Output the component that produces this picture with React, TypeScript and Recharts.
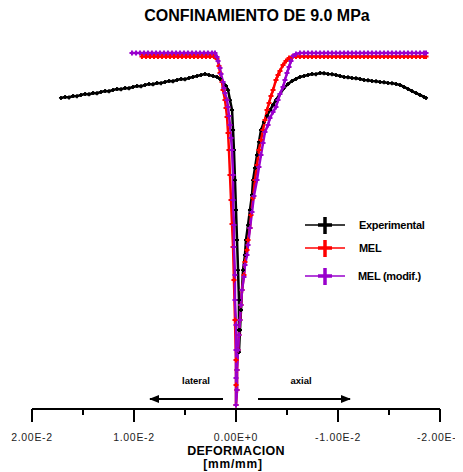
import React from 'react';
import { LineChart, Line, XAxis, YAxis, Legend } from 'recharts';

// Strain values are given in units of 1e-4 mm/mm; stress in MPa.
const expStrain = [171.6, 167.6, 163.7, 159.8, 155.9, 152.0, 148.0, 144.1, 140.2, 136.3, 132.4, 128.4, 124.5, 120.6, 116.7, 112.7, 108.8, 104.9, 101.0, 97.1, 93.1, 89.2, 85.3, 81.4, 77.5, 73.5, 69.6, 65.7, 61.8, 57.8, 53.9, 50.0, 46.1, 42.2, 38.2, 34.3, 30.4, 26.5, 22.5, 18.6, 15.7, 12.7, 9.8, 7.8, 5.9, 3.9, 2.9, 2.0, 1.0, 0.0, -1.0, -2.0, -2.9, -2.9, -2.9,
  -3.9, -4.9, -5.9, -6.9, -8.8, -9.8, -11.8, -13.7, -15.7, -16.7, -18.6, -20.6, -22.5, -24.5, -27.5, -30.4, -33.3, -36.3, -39.2, -43.1, -47.1, -51.0, -54.9, -58.8, -62.7, -66.7, -70.6, -74.5, -78.4, -82.4, -86.3, -90.2, -94.1, -98.0, -102.0, -105.9, -109.8, -113.7, -117.6, -121.6, -125.5, -129.4, -133.3, -137.3, -141.2, -145.1, -149.0, -152.9, -156.9, -160.8, -164.7, -168.6, -172.5, -176.5, -180.4, -184.3, -186.3];
const expStress = [34.56, 34.67, 34.62, 34.78, 34.76, 34.89, 35.0, 34.96, 35.11, 35.08, 35.22, 35.33, 35.3, 35.44, 35.56, 35.52, 35.67, 35.64, 35.78, 35.89, 35.85, 36.0, 36.11, 36.07, 36.22, 36.2, 36.33, 36.44, 36.41, 36.56, 36.67, 36.63, 36.78, 36.89, 37.0, 37.11, 37.22, 37.11, 37.0, 36.89, 36.67, 36.33, 35.89, 35.44, 34.33, 33.22, 31.0, 28.78, 25.44, 22.11, 18.78, 15.44, 12.11, 8.78, 6.33,
  8.78, 11.0, 13.22, 15.44, 17.11, 18.78, 20.44, 22.11, 23.78, 25.44, 26.78, 28.22, 29.67, 31.0, 31.89, 32.56, 33.22, 33.78, 34.33, 35.0, 35.67, 36.11, 36.44, 36.67, 36.89, 37.0, 37.11, 37.22, 37.2, 37.33, 37.3, 37.22, 37.2, 37.11, 37.0, 36.89, 36.86, 36.78, 36.75, 36.67, 36.56, 36.53, 36.44, 36.41, 36.33, 36.3, 36.22, 36.2, 36.11, 36.0, 35.78, 35.56, 35.33, 35.11, 34.89, 34.67, 34.56];

const melStrain = [92.2, 88.2, 84.3, 80.4, 76.5, 72.5, 68.6, 64.7, 60.8, 56.9, 52.9, 49.0, 45.1, 41.2, 37.3, 33.3, 29.4, 25.5, 21.6,
  18.6, 16.7, 15.7, 13.7, 12.7, 10.8, 9.8, 8.8, 7.8, 6.9, 5.9, 4.9, 3.9, 2.9, 2.0, 1.0, 0.0, 0.0, 0.0,
  -1.0, -1.0, -2.0, -2.9, -3.9, -4.9, -5.9, -7.8, -8.8, -10.8, -11.8, -13.7, -14.7, -16.7, -18.6, -20.6, -22.5, -24.5, -26.5, -28.4, -30.4, -32.4, -34.3, -36.3, -39.2, -41.2, -43.1, -46.1, -49.0, -52.0, -54.9,
  -58.8, -62.7, -66.7, -70.6, -74.5, -78.4, -82.4, -86.3, -90.2, -94.1, -98.0, -102.0, -105.9, -109.8, -113.7, -117.6, -121.6, -125.5, -129.4, -133.3, -137.3, -141.2, -145.1, -149.0, -152.9, -156.9, -160.8, -164.7, -168.6, -172.5, -176.5, -180.4, -184.3, -186.3];
const melStress = [39.17, 39.17, 39.17, 39.17, 39.17, 39.17, 39.17, 39.17, 39.17, 39.17, 39.17, 39.17, 39.17, 39.17, 39.17, 39.17, 39.17, 39.17, 39.17,
  38.89, 38.11, 37.33, 36.33, 35.44, 34.33, 33.44, 32.44, 30.67, 28.78, 26.0, 23.22, 20.56, 18.0, 14.33, 9.89, 5.44, 2.67, 0.44,
  2.11, 4.33, 6.56, 8.22, 9.89, 11.56, 13.22, 14.89, 16.33, 17.67, 18.78, 20.11, 21.56, 23.44, 25.44, 27.11, 28.78, 29.89, 31.0, 32.11, 33.22, 34.0, 34.78, 35.44, 36.56, 37.11, 37.56, 38.22, 38.67, 39.0, 39.11,
  39.17, 39.17, 39.17, 39.17, 39.17, 39.17, 39.17, 39.17, 39.17, 39.17, 39.17, 39.17, 39.17, 39.17, 39.17, 39.17, 39.17, 39.17, 39.17, 39.17, 39.17, 39.17, 39.17, 39.17, 39.17, 39.17, 39.17, 39.17, 39.17, 39.17, 39.17, 39.17, 39.17, 39.17];

const modStrain = [102.0, 98.0, 94.1, 90.2, 86.3, 82.4, 78.4, 74.5, 70.6, 66.7, 62.7, 58.8, 54.9, 51.0, 47.1, 43.1, 39.2, 35.3, 31.4, 27.5, 23.5, 20.6,
  18.6, 17.6, 15.7, 14.7, 12.7, 11.8, 10.8, 8.8, 7.8, 6.9, 5.9, 4.9, 3.9, 2.9, 2.9, 2.0, 2.0, 1.0, 1.0, 0.0, 0.0, 0.0, 0.0,
  -1.0, -1.0, -2.0, -2.9, -3.9, -4.9, -5.9, -7.8, -8.8, -10.8, -11.8, -13.7, -15.7, -17.6, -20.6, -22.5, -24.5, -26.5, -28.4, -31.4, -33.3, -36.3, -39.2, -41.2, -43.1, -46.1, -48.0, -50.0, -52.0, -53.9, -55.9, -58.8,
  -62.7, -66.7, -70.6, -74.5, -78.4, -82.4, -86.3, -90.2, -94.1, -98.0, -102.0, -105.9, -109.8, -113.7, -117.6, -121.6, -125.5, -129.4, -133.3, -137.3, -141.2, -145.1, -149.0, -152.9, -156.9, -160.8, -164.7, -168.6, -172.5, -176.5, -180.4, -184.3, -186.3];
const modStress = [39.56, 39.56, 39.56, 39.56, 39.56, 39.56, 39.56, 39.56, 39.56, 39.56, 39.56, 39.56, 39.56, 39.56, 39.56, 39.56, 39.56, 39.56, 39.56, 39.56, 39.56, 39.56,
  39.11, 38.67, 37.89, 37.22, 36.33, 35.67, 35.11, 34.33, 33.56, 32.56, 31.56, 30.11, 28.78, 26.0, 23.22, 20.44, 18.0, 14.89, 12.11, 9.33, 6.56, 3.44, 0.44,
  2.11, 4.33, 6.56, 8.22, 9.89, 11.56, 13.22, 14.67, 16.0, 17.11, 18.22, 20.11, 21.89, 23.67, 25.44, 26.89, 28.22, 29.56, 30.78, 31.56, 32.33, 33.0, 33.56, 34.33, 35.0, 35.78, 36.56, 37.33, 38.0, 38.67, 39.22, 39.44,
  39.56, 39.56, 39.56, 39.56, 39.56, 39.56, 39.56, 39.56, 39.56, 39.56, 39.56, 39.56, 39.56, 39.56, 39.56, 39.56, 39.56, 39.56, 39.56, 39.56, 39.56, 39.56, 39.56, 39.56, 39.56, 39.56, 39.56, 39.56, 39.56, 39.56, 39.56, 39.56, 39.56];

const majorTicks = [0.02, 0.01, 0, -0.01, -0.02];
const minorTicks = [0.015, 0.005, -0.005, -0.015];
const tickLabels = ['2.00E-2', '1.00E-2', '0.00E+0', '-1.00E-2', '-2.00E-2'];

const seriesNames = ['Experimental', 'MEL', 'MEL (modif.)'];
const seriesColors = ['#000000', '#ff0000', '#9900cc'];

const toRows = (xs: number[], ys: number[]) => xs.map((x, i) => ({ x: x * 1e-4, y: ys[i] }));
const expData = toRows(expStrain, expStress);
const melData = toRows(melStrain, melStress);
const modData = toRows(modStrain, modStress);

const FONT = '"Liberation Sans", Arial, Helvetica, sans-serif';

const makeDot = (color: string, size: number, sw: number) => (props: any) => {
  const { cx, cy, index } = props;
  if (cx == null || cy == null) return <g key={`d${index}`} />;
  return (
    <path key={`d${index}`} d={`M${cx - size},${cy}h${2 * size}M${cx},${cy - size}v${2 * size}`} stroke={color} strokeWidth={sw} fill="none" />
  );
};

const AxisTick = (props: any) => {
  const { x, y, payload } = props;
  const v = payload.value;
  const mi = majorTicks.findIndex((t) => Math.abs(t - v) < 1e-9);
  const isMajor = mi >= 0;
  return (
    <g>
      <line x1={x} x2={x} y1={y} y2={y + (isMajor ? 13 : 6)} stroke="#000" strokeWidth={2} />
      {isMajor && (
        <text x={x} y={y + 32} textAnchor="middle" fontFamily={FONT} fontSize={10.5} letterSpacing={0.7} fill="#222">
          {tickLabels[mi]}
        </text>
      )}
    </g>
  );
};

const renderLegend = () => {
  const rows = [20, 43, 71];
  return (
    <svg width={163} height={90} style={{ display: 'block' }}>
      {seriesNames.map((name, i) => (
        <g key={name}>
          <line x1={5} x2={45} y1={rows[i]} y2={rows[i]} stroke={seriesColors[i]} strokeWidth={1.5} />
          <path d={`M${18},${rows[i]}h14M${25},${rows[i] - 8}v17`} stroke={seriesColors[i]} strokeWidth={3.5} fill="none" />
          <text x={i === 2 ? 58 : 59} y={rows[i] + 3.5} fontFamily={FONT} fontSize={11} fontWeight="bold" fill="#000" letterSpacing={-0.3}>
            {name}
          </text>
        </g>
      ))}
    </svg>
  );
};

export default function App() {
  return (
    <div style={{ position: 'relative', width: 463, height: 472, marginTop: -8, marginLeft: -8, background: '#fff' }}>
      <LineChart width={463} height={472} margin={{ top: 49, right: 23, left: 32, bottom: 33 }}>
        <XAxis
          type="number"
          dataKey="x"
          domain={[-0.02, 0.02]}
          reversed
          allowDataOverflow
          ticks={[...majorTicks, ...minorTicks].sort((a, b) => b - a)}
          interval={0}
          tick={<AxisTick />}
          tickLine={false}
          tickSize={0}
          tickMargin={0}
          height={30}
          axisLine={{ stroke: '#000', strokeWidth: 2 }}
        />
        <YAxis type="number" dataKey="y" domain={[0, 40]} hide allowDataOverflow />
        <Legend
          layout="horizontal"
          verticalAlign="middle"
          align="center"
          wrapperStyle={{ position: 'absolute', left: 300, top: 205, width: 163, height: 90, margin: 0 }}
          content={renderLegend}
        />
        <Line data={expData} dataKey="y" name={seriesNames[0]} type="linear" stroke={seriesColors[0]} strokeWidth={2.5} dot={makeDot(seriesColors[0], 2, 1.8)} activeDot={false} isAnimationActive={false} />
        <Line data={melData} dataKey="y" name={seriesNames[1]} type="linear" stroke={seriesColors[1]} strokeWidth={2.5} dot={makeDot(seriesColors[1], 2.5, 2)} activeDot={false} isAnimationActive={false} />
        <Line data={modData} dataKey="y" name={seriesNames[2]} type="linear" stroke={seriesColors[2]} strokeWidth={2.5} dot={makeDot(seriesColors[2], 2.5, 2)} activeDot={false} isAnimationActive={false} />
      </LineChart>
      <svg width={463} height={472} style={{ position: 'absolute', left: 0, top: 0, pointerEvents: 'none' }}>
        <defs>
          <marker id="ah" markerWidth={10} markerHeight={8} refX={9} refY={4} orient="auto" markerUnits="userSpaceOnUse">
            <path d="M0,0 L10,4 L0,8 Z" fill="#000" />
          </marker>
        </defs>
        <text x={257} y={21} textAnchor="middle" fontFamily={FONT} fontSize={16} fontWeight="bold" fill="#000">
          CONFINAMIENTO DE 9.0 MPa
        </text>
        <text x={196} y={384} textAnchor="middle" fontFamily={FONT} fontSize={9.5} fontWeight="bold" fill="#000">lateral</text>
        <text x={301} y={384} textAnchor="middle" fontFamily={FONT} fontSize={9.5} fontWeight="bold" fill="#000">axial</text>
        <line x1={223} y1={399} x2={150} y2={399} stroke="#000" strokeWidth={2} markerEnd="url(#ah)" />
        <line x1={258} y1={399} x2={350} y2={399} stroke="#000" strokeWidth={2} markerEnd="url(#ah)" />
        <text x={236} y={455} textAnchor="middle" fontFamily={FONT} fontSize={12.5} fontWeight="bold" fill="#000" letterSpacing={0.3}>DEFORMACION</text>
        <text x={233} y={468} textAnchor="middle" fontFamily={FONT} fontSize={12} fontWeight="bold" fill="#000" letterSpacing={0.8}>[mm/mm]</text>
      </svg>
    </div>
  );
}
